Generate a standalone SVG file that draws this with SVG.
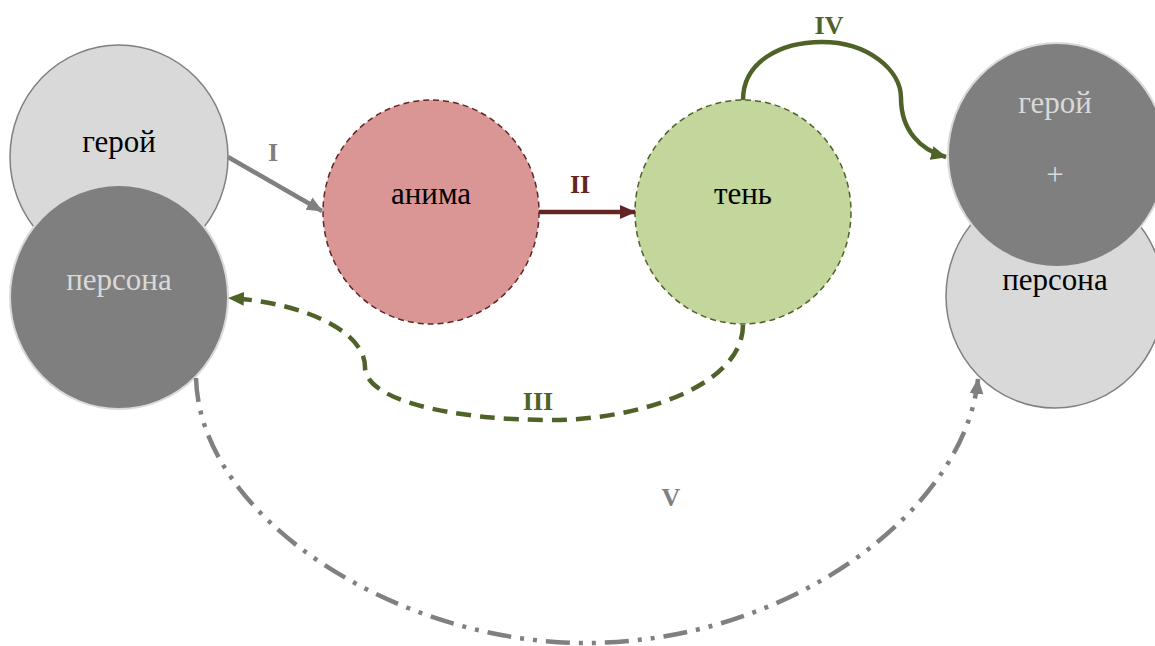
<svg xmlns="http://www.w3.org/2000/svg" width="1155" height="646" viewBox="0 0 1155 646">
<style>
text{font-family:"Liberation Serif","DejaVu Serif","Noto Serif",serif;text-anchor:middle}
.nt{font-size:31px}
.lbl{font-size:26px;font-weight:bold}
.light{fill:#d9d9d9;stroke:#808080;stroke-width:1.5}
.dark{fill:#7f7f7f;stroke:#d9d9d9;stroke-width:2}
.c{fill:none;stroke-width:4.5}
</style>
<defs>
<marker id="aGray" markerUnits="userSpaceOnUse" markerWidth="16" markerHeight="14" refX="15" refY="7" orient="auto"><path d="M0,0 L16,7 L0,14 z" fill="#808080"/></marker>
<marker id="aRed" markerUnits="userSpaceOnUse" markerWidth="16" markerHeight="14" refX="15" refY="7" orient="auto"><path d="M0,0 L16,7 L0,14 z" fill="#632523"/></marker>
<marker id="aGreen" markerUnits="userSpaceOnUse" markerWidth="16" markerHeight="14" refX="15" refY="7" orient="auto"><path d="M0,0 L16,7 L0,14 z" fill="#4f6228"/></marker>
</defs>

<g id="node-left-hero">
<ellipse class="light" cx="119" cy="157" rx="109" ry="112"/>
<text class="nt" x="119" y="152" fill="#000">герой</text>
</g>
<g id="node-left-persona">
<ellipse class="dark" cx="119" cy="297" rx="109" ry="112"/>
<text class="nt" x="119" y="290" fill="#d9d9d9">персона</text>
</g>
<g id="node-anima">
<ellipse cx="431" cy="212" rx="108" ry="112" fill="#d99694" stroke="#632523" stroke-width="1.5" stroke-dasharray="6,4"/>
<text class="nt" x="431" y="204" fill="#000">анима</text>
</g>
<g id="node-shadow">
<ellipse cx="743" cy="212" rx="108" ry="112" fill="#c3d69b" stroke="#4f6228" stroke-width="1.5" stroke-dasharray="6,4"/>
<text class="nt" x="743" y="204" fill="#000">тень</text>
</g>
<g id="node-right-persona">
<ellipse class="light" cx="1055" cy="296" rx="109" ry="112"/>
<text class="nt" x="1055" y="290" fill="#000">персона</text>
</g>
<g id="node-right-hero">
<ellipse class="dark" cx="1057" cy="155" rx="109" ry="112"/>
<text class="nt" x="1055" y="113" fill="#d9d9d9">герой</text>
<text class="nt" x="1055" y="185" fill="#d9d9d9">+</text>
</g>

<g id="connectors">
<path class="c" d="M228,157 L322,211" stroke="#808080" marker-end="url(#aGray)"/>
<path class="c" d="M539,212 L635,212" stroke="#632523" marker-end="url(#aRed)"/>
<path class="c" d="M743,325 C743,385 640,420 552,420 C450,420 365,400 365,367 C365,330 300,302 229,298" stroke="#4f6228" stroke-dasharray="15,9" marker-end="url(#aGreen)"/>
<path class="c" d="M743,100 C743,62 780,42 822,42 C868,42 901,70 901,98 C901,130 920,150 946,157" stroke="#4f6228" marker-end="url(#aGreen)"/>
<path class="c" d="M196,378 C200,520 400,643 585,643 C790,643 965,510 978,379" stroke="#808080" stroke-dasharray="24,9,4,9,4,9" marker-end="url(#aGray)"/>
</g>

<g id="labels">
<text class="lbl" x="273" y="161" fill="#808080">I</text>
<text class="lbl" x="580" y="193" fill="#632523">II</text>
<text class="lbl" x="538" y="410" fill="#4f6228">III</text>
<text class="lbl" x="829" y="34" fill="#4f6228">IV</text>
<text class="lbl" x="671" y="506" fill="#808080">V</text>
</g>
</svg>
